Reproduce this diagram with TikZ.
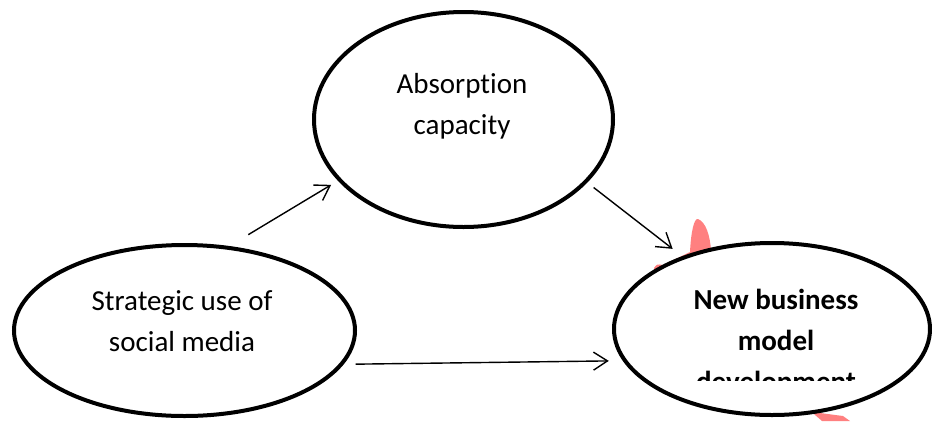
\documentclass[tikz,border=0pt]{standalone}
\usepackage{fontspec}
\setmainfont{Carlito}[Ligatures=NoCommon]
\usetikzlibrary{arrows.meta, shapes.geometric}

\definecolor{blush}{RGB}{255,128,128}

\tikzset{
  bubble/.style={ellipse, draw, line width=4pt, fill=white, inner sep=0pt},
  caption/.style={align=center, inner sep=0pt, font=\fontsize{29}{41}\selectfont},
  link/.style={-{Straight Barb[length=14pt,width=18pt]}, line width=1.4pt}
}

\begin{document}
\begin{tikzpicture}[x=1pt, y=-1pt]
            \useasboundingbox (0,0) rectangle (932,421);

            % stray pink mark behind the outcome
            \fill [blush] (654,275) -- (654,268) .. controls (657,264) .. (663,265)
                -- (690,252) .. controls (691,232) and (694,218) .. (698,219)
                .. controls (706,222) and (710,236) .. (711,250)
                -- (790,370) -- (812,405) -- (820,413) -- (843,416) -- (850,421) -- (822,421) -- cycle;

            \node [bubble, minimum width=299pt, minimum height=215pt] (absorb) at (463.5,119.5) {};
            \node [bubble, minimum width=341pt, minimum height=171pt] (social) at (184.5,330.5) {};
            \node [bubble, minimum width=316pt, minimum height=172pt] (bizmodel) at (772,329) {};

            \node [caption] (absorbtxt) at (462,106) {Absorption\\capacity};
            \node [caption] (socialtxt) at (182,321) {Strategic use of\\social media};
            \begin{scope}
                \clip (612,241) rectangle (932,380);
                \node [caption, font=\fontsize{29}{41}\selectfont\bfseries] (bizmodeltxt) at (776,343) {New business\\model\\development};
            \end{scope}

            \draw [link, shorten <=22pt, shorten >=8pt] (social.62.5) -- (absorb.206.4);
            \draw [link, shorten <=8pt, shorten >=12pt] (absorb.333.8) -- (bizmodel.141.1);
            \draw [link, shorten <=12pt, shorten >=14pt] (social.348.4) -- (bizmodel.192.7);
        \end{tikzpicture}
\end{document}
